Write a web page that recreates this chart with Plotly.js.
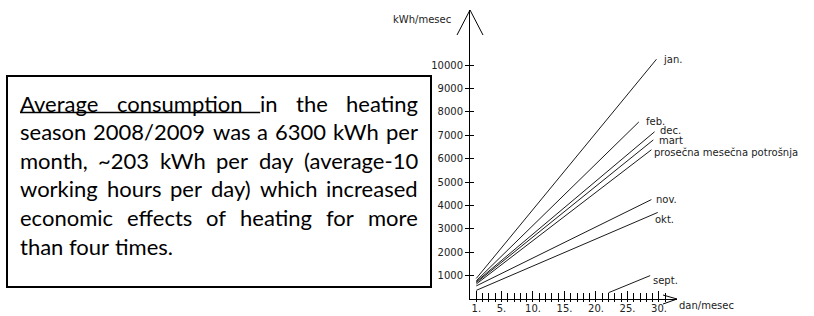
<!DOCTYPE html>
<html>
<head>
<meta charset="utf-8">
<script src="https://cdn.plot.ly/plotly-3.0.1.min.js"></script>
<style>html,body{margin:0;padding:0;background:#fff;}#chart{width:814px;height:316px;}</style>
</head>
<body>
<div id="chart"></div>
<script>
// ---- data ----
const seriesNames = ['jan.', 'feb.', 'dec.', 'mart', 'prosečna mesečna potrošnja', 'nov.', 'okt.', 'sept.'];
const startDay = [1, 1, 1, 1, 1, 1, 1, 22];
const startVal = [880, 780, 740, 700, 640, 560, 370, 270];
const endDay   = [29.6, 26.8, 29.3, 29.1, 28.8, 28.8, 29.8, 28.6];
const endVal   = [10250, 7570, 7150, 6800, 6380, 4250, 3700, 1000];
const xTickVals = [1, 5, 10, 15, 20, 25, 30];
const xTickText = ['1.', '5.', '10.', '15.', '20.', '25.', '30.'];
const xMinorVals = [1,2,3,4,5,6,7,8,9,10,11,12,13,14,15,16,17,18,19,20,21,22,23,24,25,26,27,28,29,30,31];
const yTickVals = [1000, 2000, 3000, 4000, 5000, 6000, 7000, 8000, 9000, 10000];
const yTickText = ['1000', '2000', '3000', '4000', '5000', '6000', '7000', '8000', '9000', '10000'];
const xTitle = 'dan/mesec';
const yTitle = 'kWh/mesec';
const noteLines = [
  'Average consumption in the heating',
  'season 2008/2009 was a 6300 kWh per',
  'month, ~203 kWh per day (average-10',
  'working hours per day) which increased',
  'economic effects of heating for more',
  'than four times.'
];

// ---- layout geometry (pixels) ----
const L = 470, T = 10, W = 207, H = 289;
const px = p => (p - L) / W;
const py = p => (T + H - p) / H;
const chartFont = 'DejaVu Sans, sans-serif';
const noteFont = 'Lato, sans-serif';
const noteSize = 22;

// label pixel positions (left edge, vertical centre)
const labelPos = [[662, 59], [645, 121], [659, 130], [658, 140], [653, 152], [655, 199], [654, 219], [652, 280]];

const traces = seriesNames.map((n, i) => ({
  type: 'scatter', mode: 'lines',
  x: [startDay[i], endDay[i]], y: [startVal[i], endVal[i]],
  line: {color: '#1a1a1a', width: 1}, hoverinfo: 'skip', showlegend: false
}));
traces.push({type: 'scatter', mode: 'markers', x: [5], y: [5000], xaxis: 'x2', yaxis: 'y2',
  marker: {opacity: 0}, hoverinfo: 'skip', showlegend: false});

const annotations = [];
seriesNames.forEach((n, i) => {
  annotations.push({xref: 'paper', yref: 'paper', x: px(labelPos[i][0]), y: py(labelPos[i][1]),
    xanchor: 'left', yanchor: 'middle', text: n, showarrow: false, borderpad: 0,
    font: {family: chartFont, size: 10, color: '#222'}});
});
annotations.push({xref: 'paper', yref: 'paper', x: px(452), y: py(19), xanchor: 'right', yanchor: 'middle',
  text: yTitle, showarrow: false, borderpad: 0, font: {family: chartFont, size: 10, color: '#222'}});
annotations.push({xref: 'paper', yref: 'paper', x: px(678), y: py(305), xanchor: 'left', yanchor: 'middle',
  text: xTitle, showarrow: false, borderpad: 0, font: {family: chartFont, size: 10, color: '#222'}});

// justified paragraph, one annotation per word
const ctx = document.createElement('canvas').getContext('2d');
ctx.font = noteSize + 'px Lato';
const x0 = 20, x1 = 418, firstBase = 103, lineStep = 28.6;
let underlineEnd = 0;
noteLines.forEach((line, li) => {
  const words = line.split(' ');
  const widths = words.map(w => ctx.measureText(w).width);
  const total = widths.reduce((a, b) => a + b, 0);
  const justify = li < noteLines.length - 1;
  const gap = justify ? (x1 - x0 - total) / (words.length - 1) : ctx.measureText(' ').width;
  let cx = x0;
  words.forEach((w, wi) => {
    if (li === 0 && wi === 2) underlineEnd = cx;
    annotations.push({xref: 'paper', yref: 'paper', x: px(cx), y: py(firstBase + li * lineStep),
      xanchor: 'left', yanchor: 'middle', text: w, showarrow: false, borderpad: 0, borderwidth: 0,
      font: {family: noteFont, size: noteSize, color: '#000'}});
    cx += widths[wi] + gap;
  });
});

const shapes = [
  {type: 'rect', xref: 'paper', yref: 'paper', x0: px(7), x1: px(431), y0: py(287), y1: py(76),
    line: {color: '#000', width: 2}},
  {type: 'line', xref: 'paper', yref: 'paper', x0: px(x0), x1: px(underlineEnd), y0: py(112.5), y1: py(112.5),
    line: {color: '#000', width: 1.5}},
  {type: 'path', xref: 'paper', yref: 'paper',
    path: `M ${px(457)} ${py(35)} L ${px(470)} ${py(10)} L ${px(483)} ${py(35)}`,
    line: {color: '#000', width: 1}},
  {type: 'path', xref: 'paper', yref: 'paper',
    path: `M ${px(663)} ${py(295)} L ${px(677)} ${py(299)} L ${px(663)} ${py(304)}`,
    line: {color: '#000', width: 1}}
];

const xRange = [0, 32.86];
const yRange = [0, 12356];
const layout = {
  width: 814, height: 316,
  margin: {l: L, r: 814 - L - W, t: T, b: 316 - T - H, pad: 0},
  paper_bgcolor: '#fff', plot_bgcolor: '#fff',
  showlegend: false,
  xaxis: {range: xRange, showgrid: false, zeroline: false, showline: true, linecolor: '#000', linewidth: 1,
    tickmode: 'array', tickvals: xTickVals, ticktext: xTickText, ticks: 'inside', ticklen: 8,
    tickcolor: '#000', tickwidth: 1,
    minor: {tickmode: 'array', tickvals: xMinorVals, ticks: 'inside', ticklen: 6, tickcolor: '#000', tickwidth: 1},
    tickfont: {family: chartFont, size: 10, color: '#222'}, fixedrange: true},
  xaxis2: {range: xRange, overlaying: 'x', anchor: 'y', side: 'bottom', showgrid: false, zeroline: false,
    showline: false, tickmode: 'array', tickvals: xMinorVals, ticks: 'outside', ticklen: 2,
    tickcolor: '#000', showticklabels: false, fixedrange: true},
  yaxis: {range: yRange, showgrid: false, zeroline: false, showline: true, linecolor: '#000', linewidth: 1,
    tickmode: 'array', tickvals: yTickVals, ticktext: yTickText, ticks: 'outside', ticklen: 4,
    tickcolor: '#000', tickwidth: 1,
    tickfont: {family: chartFont, size: 10, color: '#222'}, fixedrange: true},
  yaxis2: {range: yRange, overlaying: 'y', anchor: 'x', side: 'left', showgrid: false, zeroline: false,
    showline: false, tickmode: 'array', tickvals: yTickVals, ticks: 'inside', ticklen: 4,
    tickcolor: '#000', showticklabels: false, fixedrange: true},
  annotations: annotations,
  shapes: shapes
};

Plotly.newPlot('chart', traces, layout, {staticPlot: true, displayModeBar: false});
</script>
</body>
</html>
